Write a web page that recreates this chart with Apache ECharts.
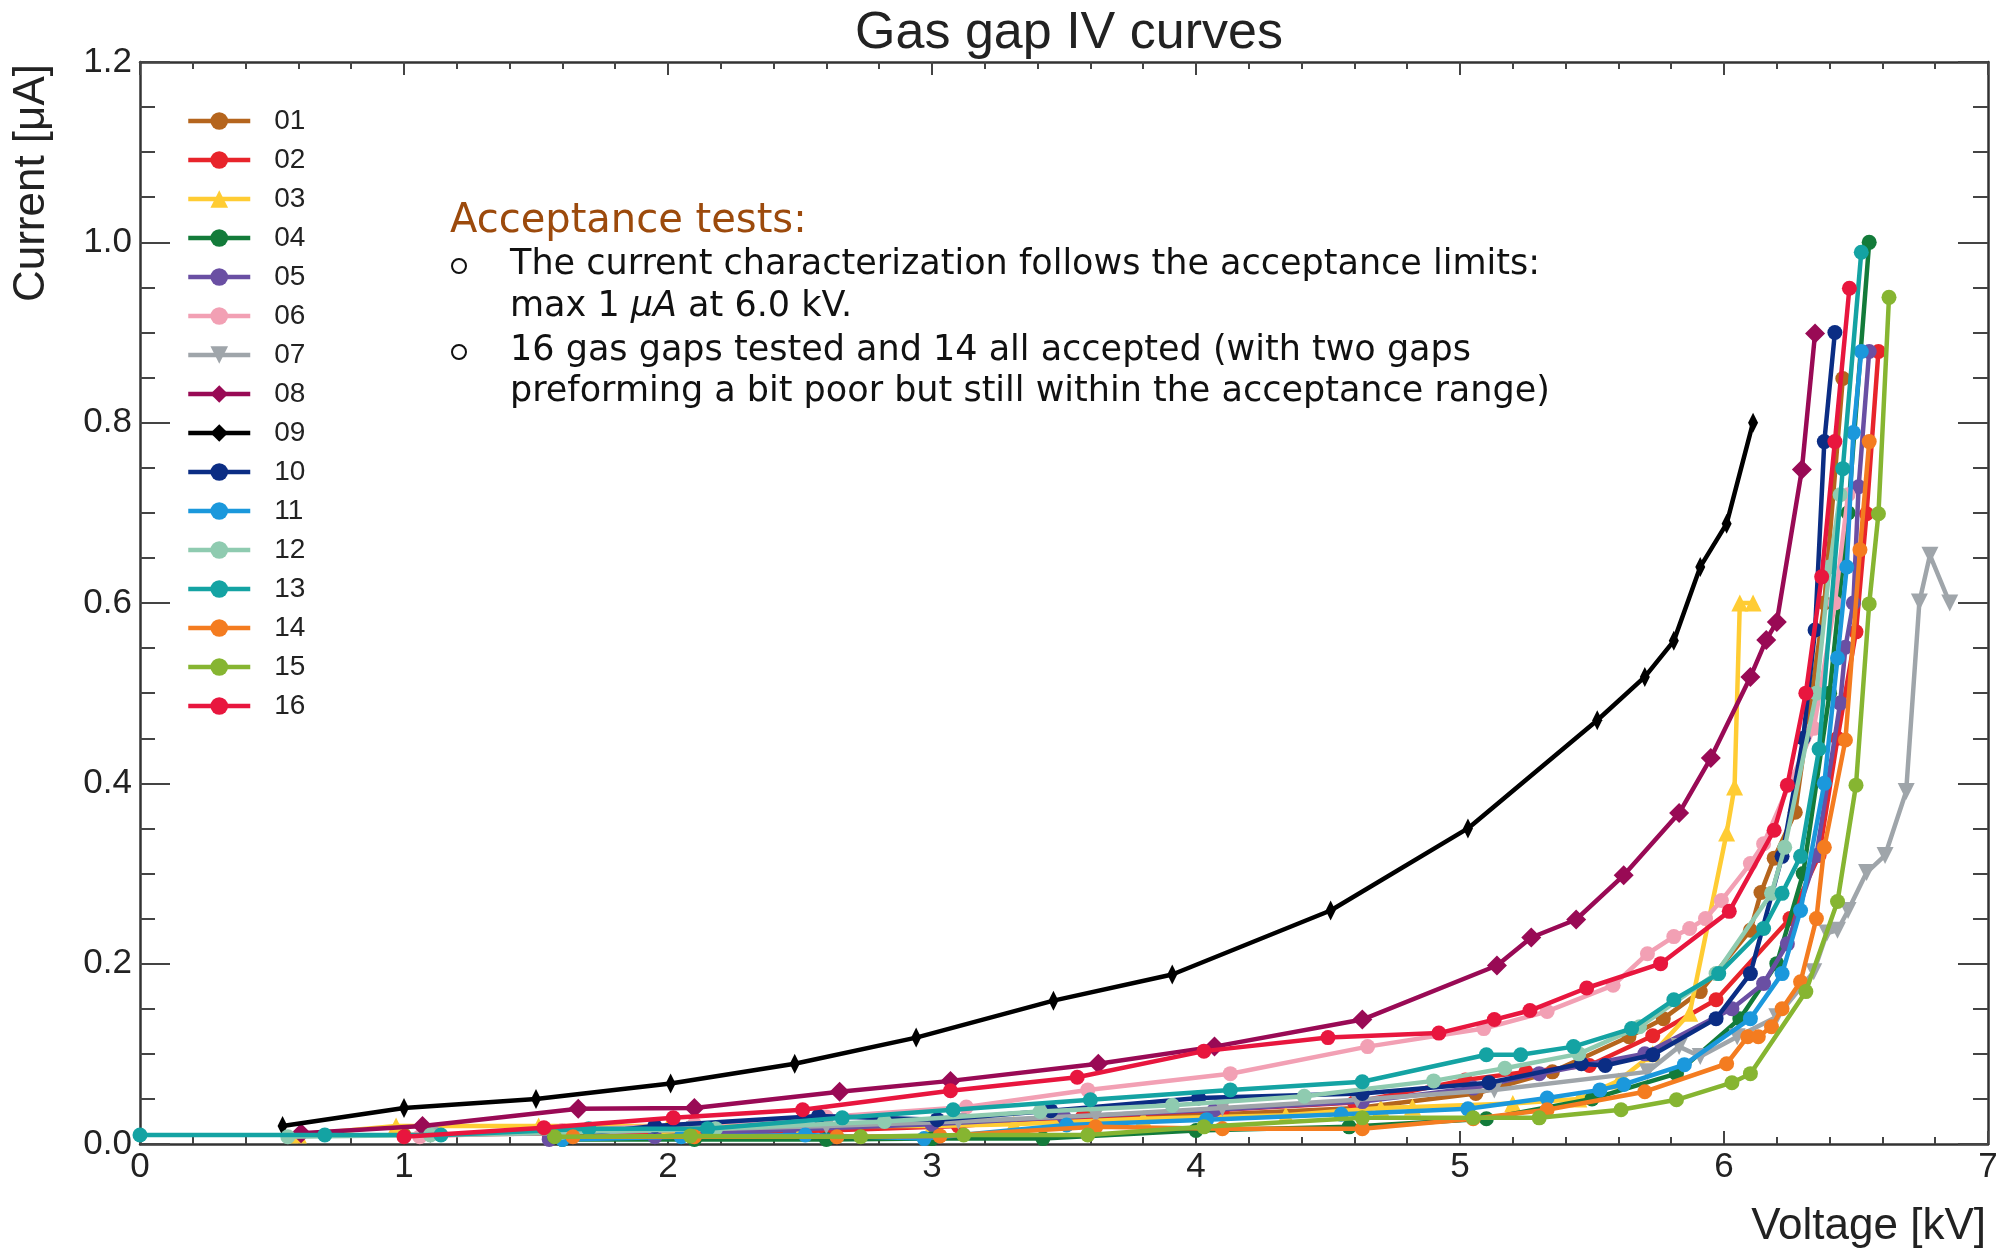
<!DOCTYPE html>
<html><head><meta charset="utf-8">
<script src="https://cdn.jsdelivr.net/npm/echarts@6/dist/echarts.min.js"></script>
<style>html,body{margin:0;padding:0;background:#fff}#c{width:2014px;height:1254px}</style>
</head><body><div id="c"></div>
<script>
// ---- data: [voltage kV, current uA] ----
const gapNames = ['01','02','03','04','05','06','07','08','09','10','11','12','13','14','15','16'];
const gap01 = [[1.0,0.010],[1.6,0.012],[2.1,0.015],[2.6,0.020],[3.1,0.025],[3.6,0.030],[4.1,0.033],[4.61,0.040],[5.06,0.056],[5.35,0.080],[5.64,0.119],[5.77,0.139],[5.91,0.169],[6.10,0.237],[6.14,0.279],[6.19,0.317],[6.27,0.368],[6.38,0.600],[6.45,0.849]];
const gap02 = [[1.55,0.010],[2.10,0.012],[2.60,0.015],[3.10,0.020],[3.57,0.030],[4.10,0.038],[4.60,0.046],[5.02,0.071],[5.25,0.080],[5.49,0.087],[5.73,0.120],[5.97,0.160],[6.25,0.250],[6.36,0.320],[6.43,0.450],[6.50,0.568],[6.54,0.699],[6.585,0.879]];
const gap03 = [[0.60,0.010],[0.97,0.020],[1.51,0.020],[2.00,0.020],[2.50,0.020],[3.00,0.020],[3.31,0.022],[3.80,0.028],[4.34,0.032],[4.70,0.040],[4.82,0.041],[5.20,0.045],[5.45,0.050],[5.60,0.070],[5.73,0.100],[5.87,0.145],[6.01,0.345],[6.04,0.396],[6.06,0.600],[6.11,0.600]];
const gap04 = [[1.60,0.005],[2.10,0.005],[2.60,0.005],[3.00,0.006],[3.42,0.006],[4.00,0.015],[4.58,0.019],[5.10,0.028],[5.50,0.050],[5.82,0.078],[6.06,0.139],[6.20,0.200],[6.30,0.300],[6.40,0.500],[6.47,0.700],[6.55,1.000]];
const gap05 = [[1.55,0.005],[1.95,0.008],[2.46,0.016],[3.00,0.022],[3.50,0.030],[4.07,0.038],[4.63,0.047],[5.05,0.062],[5.30,0.078],[5.70,0.100],[6.03,0.150],[6.15,0.178],[6.24,0.222],[6.35,0.320],[6.44,0.489],[6.46,0.551],[6.49,0.600],[6.51,0.729],[6.55,0.879]];
const gap06 = [[1.06,0.008],[1.60,0.015],[2.10,0.022],[2.60,0.030],[3.13,0.041],[3.59,0.060],[4.13,0.078],[4.65,0.108],[5.09,0.128],[5.33,0.147],[5.58,0.176],[5.71,0.211],[5.81,0.230],[5.87,0.239],[5.93,0.250],[5.99,0.270],[6.10,0.311],[6.15,0.333],[6.34,0.461],[6.42,0.600],[6.47,0.720]];
const gap07 = [[1.10,0.010],[1.60,0.012],[2.10,0.016],[2.60,0.020],[3.10,0.025],[3.62,0.032],[4.10,0.040],[4.61,0.049],[5.13,0.060],[5.71,0.080],[5.83,0.108],[5.91,0.097],[6.05,0.119],[6.20,0.141],[6.34,0.191],[6.39,0.234],[6.43,0.237],[6.47,0.259],[6.54,0.301],[6.61,0.320],[6.69,0.391],[6.74,0.601],[6.78,0.653],[6.855,0.600]];
const gap08 = [[0.61,0.012],[1.07,0.020],[1.66,0.039],[2.10,0.040],[2.65,0.058],[3.07,0.070],[3.63,0.089],[4.07,0.108],[4.63,0.138],[5.14,0.198],[5.27,0.229],[5.44,0.249],[5.62,0.298],[5.83,0.367],[5.95,0.428],[6.10,0.518],[6.16,0.559],[6.20,0.579],[6.295,0.748],[6.345,0.899]];
const gap09 = [[0.54,0.020],[1.00,0.040],[1.50,0.050],[2.01,0.067],[2.48,0.089],[2.94,0.118],[3.46,0.159],[3.91,0.188],[4.51,0.259],[5.03,0.350],[5.52,0.470],[5.70,0.518],[5.81,0.558],[5.91,0.640],[6.01,0.688],[6.11,0.800]];
const gap10 = [[1.57,0.008],[1.95,0.020],[2.57,0.031],[3.02,0.027],[3.45,0.037],[4.01,0.051],[4.63,0.056],[5.11,0.068],[5.46,0.089],[5.55,0.087],[5.73,0.099],[5.97,0.139],[6.10,0.189],[6.22,0.319],[6.30,0.450],[6.345,0.570],[6.38,0.779],[6.42,0.900]];
const gap11 = [[1.60,0.005],[2.05,0.008],[2.52,0.010],[2.97,0.006],[3.51,0.021],[4.04,0.027],[4.55,0.033],[5.03,0.039],[5.33,0.051],[5.53,0.060],[5.62,0.066],[5.85,0.088],[6.10,0.139],[6.22,0.189],[6.29,0.259],[6.38,0.400],[6.43,0.539],[6.465,0.640],[6.49,0.789],[6.52,0.879]];
const gap12 = [[0.56,0.008],[1.10,0.010],[1.60,0.013],[2.18,0.017],[2.82,0.025],[3.41,0.036],[3.91,0.043],[4.41,0.053],[4.90,0.070],[5.17,0.084],[5.45,0.100],[5.68,0.130],[5.97,0.189],[6.18,0.278],[6.23,0.329],[6.35,0.500],[6.40,0.640],[6.44,0.720]];
const gap13 = [[0.00,0.010],[0.70,0.010],[1.14,0.010],[1.70,0.017],[2.15,0.017],[2.66,0.029],[3.08,0.038],[3.60,0.049],[4.13,0.060],[4.63,0.069],[5.10,0.099],[5.23,0.099],[5.43,0.108],[5.65,0.128],[5.81,0.160],[5.98,0.189],[6.15,0.239],[6.22,0.278],[6.29,0.319],[6.36,0.438],[6.45,0.749],[6.52,0.989]];
const gap14 = [[1.64,0.008],[2.10,0.008],[2.64,0.008],[3.03,0.009],[3.62,0.019],[4.10,0.017],[4.63,0.017],[5.05,0.028],[5.33,0.038],[5.70,0.058],[6.01,0.089],[6.09,0.119],[6.13,0.119],[6.18,0.130],[6.22,0.150],[6.29,0.180],[6.35,0.250],[6.38,0.329],[6.46,0.448],[6.515,0.659],[6.55,0.779]];
const gap15 = [[1.57,0.008],[2.085,0.009],[2.73,0.008],[3.12,0.010],[3.59,0.010],[4.03,0.019],[4.63,0.029],[5.05,0.029],[5.30,0.029],[5.61,0.038],[5.82,0.049],[6.03,0.068],[6.10,0.078],[6.31,0.169],[6.43,0.269],[6.50,0.398],[6.55,0.599],[6.585,0.699],[6.625,0.939]];
const gap16 = [[1.00,0.008],[1.53,0.018],[2.02,0.029],[2.51,0.038],[3.07,0.059],[3.55,0.074],[4.03,0.103],[4.50,0.118],[4.92,0.123],[5.13,0.138],[5.265,0.148],[5.48,0.173],[5.76,0.200],[6.02,0.258],[6.19,0.348],[6.24,0.398],[6.31,0.500],[6.37,0.629],[6.42,0.779],[6.475,0.949]];
const allGaps = [gap01,gap02,gap03,gap04,gap05,gap06,gap07,gap08,gap09,gap10,gap11,gap12,gap13,gap14,gap15,gap16];
const yTickLabels = ['0.0','0.2','0.4','0.6','0.8','1.0','1.2'];
const chartTitle = 'Gas gap IV curves';
const xTitle = 'Voltage [kV]';
const yTitle = 'Current [\u03bcA]';
const noteHeading = 'Acceptance tests:';
const noteLines = [
  'The current characterization follows the acceptance limits:',
  'max 1 {i|\u03bcA} at 6.0 kV.',
  '16 gas gaps tested and 14 all accepted (with two gaps',
  'preforming a bit poor but still within the acceptance range)'
];

// ---- styles ----
const colors = ['#b5651d','#e8242b','#ffcc33','#137b3a','#6a4fa3','#f2a0b4','#9fa5aa','#990a55','#000000','#0b2d84','#1b98dc','#8fcbb0','#14a3a3','#f47c20','#86b531','#e8163e'];
const symbolOf = i => (i===2||i===6) ? 'triangle' : (i===7||i===8) ? 'diamond' : 'circle';
const symbolSizeOf = i => i===8 ? [10,20] : i===7 ? 20 : (i===2||i===6) ? 17 : 15;

const FONT = '"Liberation Sans", Arial, Helvetica, sans-serif';
const NOTEFONT = '"Comic Sans MS", "DejaVu Sans", sans-serif';

const chart = echarts.init(document.getElementById('c'), null, {renderer:'canvas'});

const series = allGaps.map((d,i)=>({
  name: gapNames[i], type:'line', data: d,
  xAxisIndex:0, yAxisIndex:0,
  symbol: symbolOf(i), symbolSize: symbolSizeOf(i), symbolRotate: i===6 ? 180 : 0,
  showSymbol:true, showAllSymbol:true,
  lineStyle:{width:4.5, color:colors[i]},
  itemStyle:{color:colors[i], borderWidth:0},
  emphasis:{disabled:true},
  z: 2 + i*0.01
}));

const axisLineStyle = {color:'#333', width:2.5};
const xCommon = {type:'value', min:0, max:7, interval:1, splitLine:{show:false},
  axisLine:{show:true, onZero:false, lineStyle:axisLineStyle},
  axisTick:{show:true, inside:true, length:13, lineStyle:{color:'#444', width:2}},
  minorTick:{show:true, splitNumber:5, length:7, lineStyle:{color:'#444', width:2}},
  minorSplitLine:{show:false}};
const yCommon = {type:'value', min:0, max:1.2, interval:0.2, splitLine:{show:false},
  axisLine:{show:true, onZero:false, lineStyle:axisLineStyle},
  axisTick:{show:true, inside:true, length:30, lineStyle:{color:'#444', width:2}},
  minorTick:{show:true, splitNumber:4, length:15, lineStyle:{color:'#444', width:2}},
  minorSplitLine:{show:false}};

const graphics = [
  {type:'text', x:32, y:64, rotation:Math.PI/2,
   style:{text:yTitle, fontSize:44, fontFamily:FONT, fill:'#222', align:'right', verticalAlign:'middle', textAlign:'right', textVerticalAlign:'middle'}},
  {type:'text', x:1986, y:1227,
   style:{text:xTitle, fontSize:44, fontFamily:FONT, fill:'#222', align:'right', verticalAlign:'middle', textAlign:'right', textVerticalAlign:'middle'}},
  {type:'text', x:450, y:222,
   style:{text:noteHeading, fontSize:40, fontFamily:NOTEFONT, fill:'#9c4a0c', align:'left', verticalAlign:'middle', textAlign:'left', textVerticalAlign:'middle'}},
  {type:'circle', shape:{cx:459, cy:266, r:7}, style:{fill:'none', stroke:'#111', lineWidth:2}},
  {type:'circle', shape:{cx:459, cy:352, r:7}, style:{fill:'none', stroke:'#111', lineWidth:2}}
];
const lineYs = [265,307,351,392];
noteLines.forEach((t,k)=>{
  graphics.push({type:'text', x:510, y:lineYs[k],
    style:{text:t, fontSize:35, fontFamily:NOTEFONT, fill:'#111', align:'left', verticalAlign:'middle', textAlign:'left', textVerticalAlign:'middle',
      rich:{i:{fontSize:35, fontFamily:NOTEFONT, fontStyle:'italic', fill:'#111'}}}});
});

chart.setOption({
  animation:false,
  backgroundColor:'#fff',
  title:{text:chartTitle, left:1064, textAlign:'center', top:3,
    textStyle:{fontSize:52, fontWeight:'normal', fontFamily:FONT, color:'#222'}},
  grid:{left:140, right:26, top:62, bottom:110, containLabel:false},
  legend:{data:gapNames, orient:'vertical', left:186, top:107, itemWidth:62, itemHeight:22, itemGap:11, padding:0,
    lineStyle:{width:4.5},
    textStyle:{fontSize:28, lineHeight:28, fontFamily:FONT, color:'#222', padding:[0,0,0,19]},
    selectedMode:false},
  xAxis:[
    Object.assign({}, xCommon, {position:'bottom',
      axisLabel:{show:true, fontSize:35, fontFamily:FONT, color:'#222', margin:6}}),
    Object.assign({}, xCommon, {position:'top', axisLabel:{show:false}})
  ],
  yAxis:[
    Object.assign({}, yCommon, {position:'left',
      axisLabel:{show:true, fontSize:35, fontFamily:FONT, color:'#222', margin:8,
        formatter:(v)=>yTickLabels[Math.round(v/0.2)]}}),
    Object.assign({}, yCommon, {position:'right', axisLabel:{show:false}})
  ],
  graphic:graphics,
  series:series
});
</script>
</body></html>
